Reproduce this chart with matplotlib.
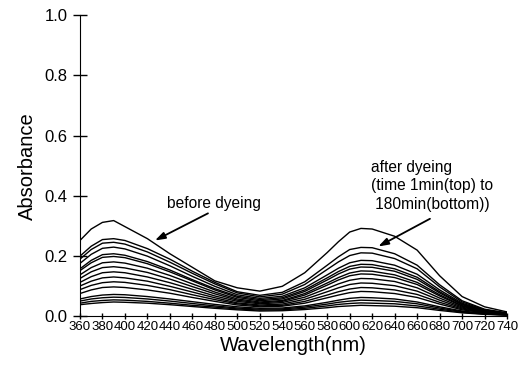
import matplotlib
matplotlib.use("Agg")
import matplotlib.pyplot as plt
import numpy as np

plt.rcParams['font.family'] = ['Liberation Sans', 'DejaVu Sans']

# wavelength grid (nm), extra points near the two peaks
wavelength = [360, 370, 380, 390, 400, 420, 440, 460, 480, 500, 520, 540,
              560, 580, 590, 600, 610, 620, 640, 660, 680, 700, 720, 740]

# before dyeing
before = [0.252, 0.290, 0.312, 0.318, 0.298, 0.258, 0.208, 0.163, 0.118, 0.095, 0.084, 0.100,
          0.145, 0.212, 0.248, 0.280, 0.292, 0.290, 0.266, 0.220, 0.135, 0.066, 0.032, 0.015]

# after dyeing, time 1 min (top) to 180 min (bottom)
after = [
    [0.200, 0.233, 0.255, 0.258, 0.252, 0.225, 0.190, 0.150, 0.113, 0.082, 0.070, 0.080,
     0.115, 0.170, 0.198, 0.222, 0.229, 0.228, 0.208, 0.170, 0.105, 0.052, 0.024, 0.012],
    [0.190, 0.222, 0.243, 0.246, 0.240, 0.214, 0.180, 0.143, 0.108, 0.078, 0.065, 0.074,
     0.106, 0.156, 0.181, 0.202, 0.211, 0.210, 0.192, 0.158, 0.098, 0.048, 0.022, 0.011],
    [0.176, 0.206, 0.226, 0.230, 0.224, 0.200, 0.168, 0.133, 0.100, 0.072, 0.060, 0.067,
     0.095, 0.138, 0.160, 0.178, 0.186, 0.185, 0.170, 0.140, 0.088, 0.044, 0.020, 0.010],
    [0.158, 0.186, 0.205, 0.208, 0.203, 0.182, 0.154, 0.122, 0.092, 0.067, 0.056, 0.062,
     0.088, 0.128, 0.149, 0.166, 0.173, 0.172, 0.158, 0.130, 0.082, 0.041, 0.019, 0.010],
    [0.152, 0.178, 0.196, 0.199, 0.195, 0.175, 0.148, 0.118, 0.088, 0.063, 0.052, 0.058,
     0.083, 0.121, 0.141, 0.157, 0.164, 0.163, 0.150, 0.123, 0.078, 0.039, 0.018, 0.009],
    [0.138, 0.162, 0.178, 0.181, 0.177, 0.160, 0.136, 0.108, 0.081, 0.058, 0.048, 0.053,
     0.076, 0.111, 0.129, 0.144, 0.151, 0.150, 0.138, 0.113, 0.072, 0.036, 0.017, 0.009],
    [0.126, 0.148, 0.162, 0.165, 0.161, 0.146, 0.124, 0.099, 0.075, 0.054, 0.045, 0.050,
     0.071, 0.104, 0.121, 0.135, 0.141, 0.140, 0.129, 0.106, 0.068, 0.034, 0.016, 0.008],
    [0.113, 0.132, 0.145, 0.148, 0.145, 0.131, 0.112, 0.090, 0.068, 0.050, 0.042, 0.046,
     0.064, 0.093, 0.108, 0.120, 0.126, 0.125, 0.116, 0.095, 0.061, 0.031, 0.015, 0.008],
    [0.101, 0.117, 0.128, 0.131, 0.128, 0.117, 0.100, 0.081, 0.062, 0.045, 0.038, 0.041,
     0.057, 0.082, 0.095, 0.106, 0.111, 0.110, 0.102, 0.084, 0.054, 0.028, 0.014, 0.007],
    [0.089, 0.103, 0.112, 0.115, 0.113, 0.103, 0.089, 0.072, 0.056, 0.042, 0.035, 0.037,
     0.050, 0.071, 0.082, 0.091, 0.096, 0.095, 0.088, 0.073, 0.047, 0.025, 0.013, 0.007],
    [0.076, 0.088, 0.096, 0.098, 0.096, 0.088, 0.077, 0.063, 0.050, 0.038, 0.032, 0.034,
     0.044, 0.062, 0.071, 0.079, 0.083, 0.082, 0.076, 0.063, 0.041, 0.022, 0.012, 0.006],
    [0.058, 0.066, 0.071, 0.073, 0.072, 0.066, 0.058, 0.049, 0.040, 0.032, 0.027, 0.028,
     0.035, 0.047, 0.054, 0.060, 0.063, 0.062, 0.058, 0.048, 0.032, 0.018, 0.010, 0.006],
    [0.051, 0.058, 0.062, 0.064, 0.063, 0.058, 0.051, 0.043, 0.035, 0.028, 0.024, 0.025,
     0.031, 0.041, 0.047, 0.051, 0.054, 0.053, 0.050, 0.042, 0.028, 0.016, 0.009, 0.005],
    [0.044, 0.050, 0.053, 0.055, 0.054, 0.050, 0.044, 0.037, 0.031, 0.025, 0.021, 0.022,
     0.027, 0.035, 0.040, 0.043, 0.045, 0.044, 0.042, 0.035, 0.024, 0.014, 0.008, 0.005],
    [0.039, 0.043, 0.046, 0.048, 0.047, 0.044, 0.039, 0.033, 0.027, 0.022, 0.018, 0.019,
     0.023, 0.029, 0.033, 0.035, 0.037, 0.036, 0.034, 0.029, 0.020, 0.012, 0.007, 0.004],
]

xticks = list(range(360, 741, 20))
yticks = [0.0, 0.2, 0.4, 0.6, 0.8, 1.0]

fig = plt.figure(figsize=(5.26, 3.65), dpi=100)
ax = fig.add_axes([0.152, 0.133, 0.812, 0.826])

ax.plot(wavelength, before, color='black', lw=1.0)
for s in after:
    ax.plot(wavelength, s, color='black', lw=1.0)

ax.set_xlim(360, 740)
ax.set_ylim(0, 1.0)
ax.set_xticks(xticks)
ax.set_yticks(yticks)
ax.set_yticklabels(['%.1f' % v for v in yticks], fontsize=12)
ax.set_xticklabels([str(v) for v in xticks], fontsize=9.5)
ax.tick_params(axis='y', direction='inout', length=10, width=1, pad=4)
ax.tick_params(axis='x', direction='inout', length=5, width=1, pad=1)
ax.spines['top'].set_visible(False)
ax.spines['right'].set_visible(False)

ax.set_xlabel("Wavelength(nm)", fontsize=14.5, labelpad=2)
ax.set_ylabel("Absorbance", fontsize=14.5, labelpad=5)

arrow = dict(arrowstyle='-|>,head_length=0.6,head_width=0.2', color='black',
             lw=1.3, shrinkA=0, shrinkB=0)
ax.text(479, 0.375, "before dyeing", fontsize=11.2, ha='center', va='center')
ax.annotate("", xy=(426.7, 0.252), xytext=(473.9, 0.342), arrowprops=arrow)

ax.text(619, 0.52, "after dyeing\n(time 1min(top) to\n 180min(bottom))",
        fontsize=11.2, ha='left', va='top', linespacing=1.3)
ax.annotate("", xy=(625.4, 0.232), xytext=(671.4, 0.324), arrowprops=arrow)

fig.savefig("out.png", dpi=100)
